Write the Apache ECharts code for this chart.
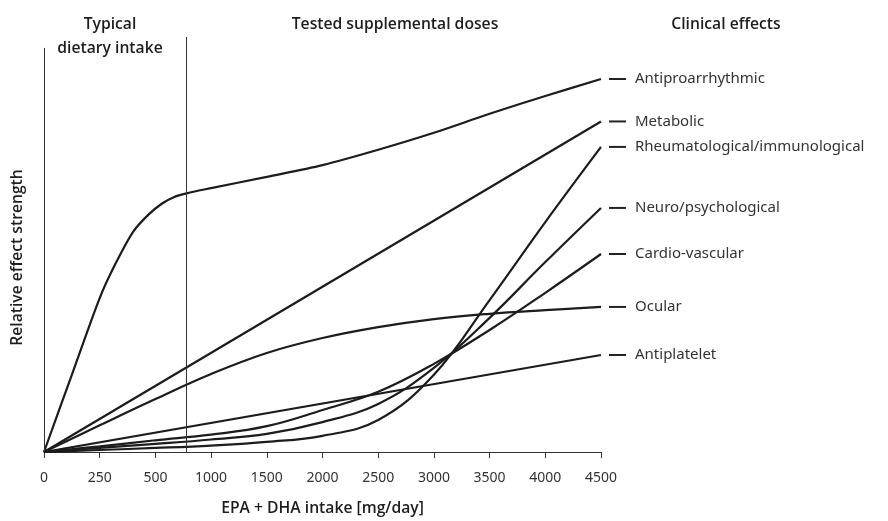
<!DOCTYPE html>
<html>
<head>
<meta charset="utf-8">
<script src="https://cdn.jsdelivr.net/npm/echarts@6/dist/echarts.min.js"></script>
<style>
  html, body { margin: 0; padding: 0; background: #fff; }
  #chart { width: 888px; height: 521px; }
</style>
</head>
<body>
<div id="chart"></div>
<script>
// x axis is not linear: 0-500 in 250 steps, then 500 steps
var tickLabels = ['0', '250', '500', '1000', '1500', '2000', '2500', '3000', '3500', '4000', '4500'];
var tickDoses = [0, 250, 500, 1000, 1500, 2000, 2500, 3000, 3500, 4000, 4500];
var dividerDose = 780;

var antiproDoses = [0, 125, 250, 320, 400, 470, 560, 660, 780, 1000, 1500, 2000, 2500, 3000, 3500, 4000, 4500];
var antiproValues = [0, 19.1, 38.1, 46.5, 54.5, 58.8, 61.5, 63.0, 64.0, 65.3, 68.1, 71.0, 74.8, 79.0, 83.7, 88.1, 92.3];
var lineDoses = [0, 4500];
var metabolicValues = [0, 81.8];
var rheumValues = [0, 0.5, 1.0, 1.6, 2.5, 4.0, 7.9, 19.1, 37.6, 56.9, 75.5];
var neuroValues = [0, 1.0, 2.0, 3.1, 4.5, 7.4, 11.9, 20.8, 33.2, 47.0, 60.4];
var cardioValues = [0, 1.4, 2.9, 4.3, 6.4, 10.4, 14.9, 21.8, 30.2, 39.4, 49.0];
var ocularValues = [0, 6.6, 13.1, 19.3, 24.5, 28.2, 30.9, 32.9, 34.2, 35.1, 35.9];
var antiplateletValues = [0, 24.0];

var yTop = 102.7;
var font = 'Noto Sans';
var headFont = 'Open Sans';

function toAxis(mg) {
    return mg <= 500 ? mg / 250 : 1 + mg / 500;
}
function pairs(doses, values) {
    return doses.map(function (d, i) { return [toAxis(d), values[i]]; });
}

function effectLine(name, doses, values, smooth, extra) {
    var s = {
        name: name,
        type: 'line',
        data: pairs(doses, values),
        smooth: smooth,
        showSymbol: false,
        lineStyle: { color: '#1c1c1c', width: 2.2 },
        endLabel: {
            show: true,
            distance: 8,
            formatter: '{d| }{n|' + name + '}',
            rich: {
                d: { width: 17, height: 2, backgroundColor: '#222' },
                n: { padding: [0, 0, 0, 9], fontSize: 15, color: '#333', fontFamily: font }
            }
        }
    };
    if (extra) {
        for (var k in extra) s[k] = extra[k];
    }
    return s;
}

var headStyle = { align: 'center', verticalAlign: 'middle', fontSize: 15.7, fontWeight: 600, fontFamily: headFont, fill: '#1e1e1e' };
function heading(text, x, y, more) {
    var st = { text: text };
    for (var k in headStyle) st[k] = headStyle[k];
    if (more) for (var m in more) st[m] = more[m];
    return { type: 'text', x: x, y: y, style: st };
}

var myChart = echarts.init(document.getElementById('chart'));
var option = {
    animation: false,
    backgroundColor: '#fff',
    textStyle: { fontFamily: font },
    grid: {
        left: 44,
        right: 287,
        top: 37,
        bottom: 69,
        outerBoundsMode: 'none'
    },
    graphic: [
        heading('Typical\ndietary intake', 110, 37, { lineHeight: 24 }),
        heading('Tested supplemental doses', 395, 25),
        heading('Clinical effects', 726, 25)
    ],
    xAxis: {
        type: 'value',
        min: 0,
        max: 10,
        interval: 1,
        name: 'EPA + DHA intake [mg/day]',
        nameLocation: 'middle',
        nameGap: 49,
        nameTextStyle: { fontSize: 15.7, fontWeight: 600, color: '#1e1e1e', fontFamily: headFont },
        axisLine: { show: true, lineStyle: { color: '#333', width: 1 } },
        axisTick: { show: true, length: 6, lineStyle: { color: '#333', width: 1 } },
        axisLabel: {
            margin: 19,
            fontSize: 14,
            color: '#333',
            fontFamily: font,
            formatter: function (v) { return tickLabels[v]; }
        },
        splitLine: { show: false }
    },
    yAxis: {
        type: 'value',
        min: 0,
        max: yTop,
        name: 'Relative effect strength',
        nameLocation: 'middle',
        nameGap: 18,
        nameTextStyle: { fontSize: 15.7, fontWeight: 600, color: '#1e1e1e', fontFamily: headFont, padding: [0, 0, 0, -26] },
        axisLine: { show: false },
        axisTick: { show: false },
        axisLabel: { show: false },
        splitLine: { show: false }
    },
    series: [
        effectLine('Antiproarrhythmic', antiproDoses, antiproValues, 0.3, {
            markLine: {
                silent: true,
                symbol: 'none',
                label: { show: false },
                lineStyle: { color: '#333', width: 1, type: 'solid' },
                data: [
                    [{ coord: [0, 0] }, { coord: [0, 100] }],
                    [{ coord: [toAxis(dividerDose), 0] }, { coord: [toAxis(dividerDose), yTop] }]
                ]
            }
        }),
        effectLine('Metabolic', lineDoses, metabolicValues, false),
        effectLine('Rheumatological/immunological', tickDoses, rheumValues, 0.4),
        effectLine('Neuro/psychological', tickDoses, neuroValues, 0.4),
        effectLine('Cardio-vascular', tickDoses, cardioValues, 0.4),
        effectLine('Ocular', tickDoses, ocularValues, 0.4),
        effectLine('Antiplatelet', lineDoses, antiplateletValues, false)
    ]
};
myChart.setOption(option);
</script>
</body>
</html>
